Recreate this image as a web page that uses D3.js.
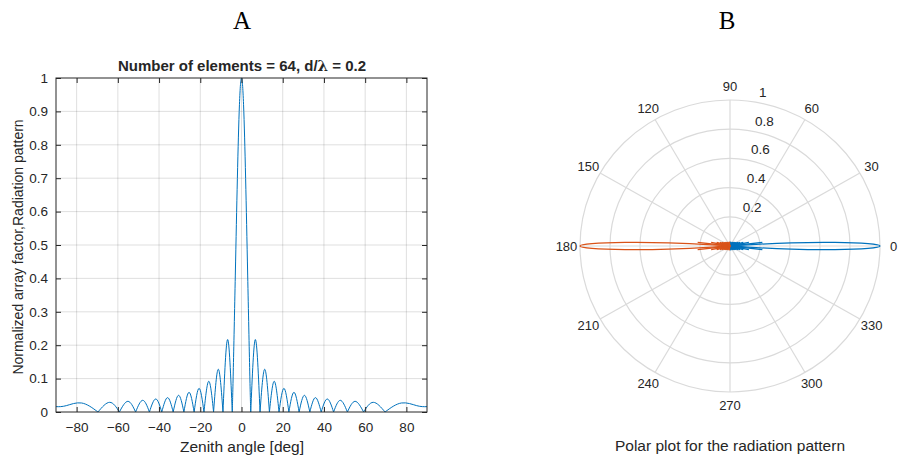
<!DOCTYPE html>
<html>
<head>
<meta charset="utf-8">
<title>Array factor</title>
<script src="https://d3js.org/d3.v7.min.js"></script>
<style>
  body { margin: 0; background: #fff; }
  text { font-family: "Liberation Sans", Arial, sans-serif; fill: #262626; }
  .grid line { stroke: #262626; stroke-opacity: 0.15; }
  .axis path { display: none; }
  .axis line { stroke: #262626; }
  .axis text { font-size: 13.5px; fill: #262626; }
  .panel { font-family: "Liberation Serif", "Times New Roman", serif; font-size: 25px; fill: #000; }
</style>
</head>
<body>
<svg width="899" height="459"></svg>
<script>
// values (right half, mirrored for negative angles)
const mainAngles = [0, 1, 2, 3, 4, 4.48];
const mainLevels = [1, 0.92, 0.70, 0.41, 0.12, 0];
const nullAngles = [4.48, 8.99, 13.55, 18.21, 22.99, 27.95, 33.15, 38.68, 44.68, 51.38, 59.25, 69.64];
const lobeAngles = [6.73, 11.26, 15.87, 20.58, 25.45, 30.52, 35.87, 41.61, 47.92, 55.12, 63.94, 77.6];
const lobeLevels = [0.217, 0.128, 0.092, 0.071, 0.059, 0.050, 0.043, 0.039, 0.035, 0.032, 0.029, 0.027];
const edgeAngles = [85, 90];
const edgeLevels = [0.019, 0.016];

const xTicks = [-80, -60, -40, -20, 0, 20, 40, 60, 80];
const yTicks = [0, 0.1, 0.2, 0.3, 0.4, 0.5, 0.6, 0.7, 0.8, 0.9, 1];
const rTicks = [0.2, 0.4, 0.6, 0.8, 1];
const thetaTicks = [0, 30, 60, 90, 120, 150, 180, 210, 240, 270, 300, 330];

const blue = '#0072BD', orange = '#D95319';

// build lobes as lists of [angle, level]
const lobes = [];
const mainRight = mainAngles.map((a, i) => [a, mainLevels[i]]);
lobes.push(mainRight.slice().reverse().map(d => [-d[0], d[1]]).concat(mainRight.slice(1)));
for (let k = 0; k < lobeAngles.length; k++) {
  let pts = [[nullAngles[k], 0], [lobeAngles[k], lobeLevels[k]]];
  if (k + 1 < nullAngles.length) pts.push([nullAngles[k + 1], 0]);
  else edgeAngles.forEach((a, i) => pts.push([a, edgeLevels[i]]));
  lobes.push(pts);
  lobes.push(pts.map(d => [-d[0], d[1]]).reverse());
}

const svg = d3.select('svg');

// panel letters
svg.append('text').attr('class', 'panel').attr('x', 242).attr('y', 29).attr('text-anchor', 'middle').text('A');
svg.append('text').attr('class', 'panel').attr('x', 727).attr('y', 29).attr('text-anchor', 'middle').text('B');

// ---------- left: cartesian ----------
const x = d3.scaleLinear().domain([-90, 90]).range([56, 427]);
const y = d3.scaleLinear().domain([0, 1]).range([412, 78]);

const grid = svg.append('g').attr('class', 'grid');
grid.selectAll('.gx').data(xTicks).enter().append('line')
  .attr('x1', d => x(d)).attr('x2', d => x(d)).attr('y1', y(0)).attr('y2', y(1));
grid.selectAll('.gy').data(yTicks.slice(1, -1)).enter().append('line')
  .attr('x1', x(-90)).attr('x2', x(90)).attr('y1', d => y(d)).attr('y2', d => y(d));

const line = d3.line().x(d => x(d[0])).y(d => y(d[1])).curve(d3.curveNatural);
const plot = svg.append('g');
plot.selectAll('path').data(lobes).enter().append('path')
  .attr('d', line).attr('fill', 'none').attr('stroke', blue).attr('stroke-width', 1);
// clip overshoot below zero
svg.append('rect').attr('x', 50).attr('y', y(0) + 0.5).attr('width', 390).attr('height', 8).attr('fill', '#fff');

svg.append('g').attr('class', 'axis').attr('transform', `translate(0,${y(0)})`)
  .call(d3.axisBottom(x).tickValues(xTicks).tickSize(-5).tickPadding(10).tickFormat(d3.format('d')));
svg.append('g').attr('class', 'axis').attr('transform', `translate(0,${y(1)})`)
  .call(d3.axisTop(x).tickValues(xTicks).tickSize(-5).tickFormat(''));
svg.append('g').attr('class', 'axis').attr('transform', `translate(${x(-90)},0)`)
  .call(d3.axisLeft(y).tickValues(yTicks).tickSize(-5).tickPadding(8).tickFormat(d => d3.format('~g')(d)));
svg.append('g').attr('class', 'axis').attr('transform', `translate(${x(90)},0)`)
  .call(d3.axisRight(y).tickValues(yTicks).tickSize(-5).tickFormat(''));
svg.append('rect').attr('x', x(-90)).attr('y', y(1)).attr('width', x(90) - x(-90)).attr('height', y(0) - y(1))
  .attr('fill', 'none').attr('stroke', '#262626').attr('stroke-width', 1);

const title = svg.append('text').attr('x', 242).attr('y', 71).attr('text-anchor', 'middle')
  .attr('font-size', 15).attr('font-weight', 'bold').attr('fill', '#000');
title.append('tspan').text('Number of elements = 64, d/');
title.append('tspan').attr('font-family', '"DejaVu Serif", serif').attr('font-weight', 'bold').text('λ');
title.append('tspan').text(' = 0.2');

svg.append('text').attr('x', 242).attr('y', 452).attr('text-anchor', 'middle').attr('font-size', 15.5)
  .attr('fill', '#404040').text('Zenith angle [deg]');
svg.append('text').attr('transform', 'translate(23,247) rotate(-90)').attr('text-anchor', 'middle')
  .attr('font-size', 14).attr('fill', '#404040').text('Normalized array factor,Radiation pattern');

// ---------- right: polar ----------
const cx = 730, cy = 246, ry = 146 / 150;
const r = d3.scaleLinear().domain([0, 1]).range([0, 150]);
const px = (deg, v) => cx + r(v) * Math.cos(deg * Math.PI / 180);
const py = (deg, v) => cy - r(v) * ry * Math.sin(deg * Math.PI / 180);

const pg = svg.append('g');
pg.selectAll('ellipse').data(rTicks).enter().append('ellipse')
  .attr('cx', cx).attr('cy', cy).attr('rx', d => r(d)).attr('ry', d => r(d) * ry)
  .attr('fill', 'none').attr('stroke', '#dadada').attr('stroke-width', 1.2);
pg.selectAll('line').data(thetaTicks).enter().append('line')
  .attr('x1', cx).attr('y1', cy).attr('x2', d => px(d, 1)).attr('y2', d => py(d, 1))
  .attr('stroke', '#dadada').attr('stroke-width', 1.2);

pg.selectAll('.tl').data(thetaTicks).enter().append('text')
  .attr('x', d => px(d, 1.09)).attr('y', d => py(d, 1.09)).attr('dy', '0.35em')
  .attr('text-anchor', 'middle').attr('font-size', 13).text(d => d);
pg.selectAll('.rl').data(rTicks).enter().append('text')
  .attr('x', d => cx + 8.6 + 20.5 * d).attr('y', d => py(80, d) - 10).attr('dy', '0.35em')
  .attr('font-size', 13.5).text(d => d3.format('~g')(d));

const pline = off => d3.line().x(d => px(d[0] + off, d[1])).y(d => py(d[0] + off, d[1])).curve(d3.curveNatural);
[[0, blue], [180, orange]].forEach(([off, col]) => {
  pg.append('g').selectAll('path').data(lobes).enter().append('path')
    .attr('d', pline(off)).attr('fill', 'none').attr('stroke', col).attr('stroke-width', 1.3);
});

svg.append('text').attr('x', 730).attr('y', 451).attr('text-anchor', 'middle').attr('font-size', 15.5)
  .attr('fill', '#404040').text('Polar plot for the radiation pattern');
</script>
</body>
</html>
